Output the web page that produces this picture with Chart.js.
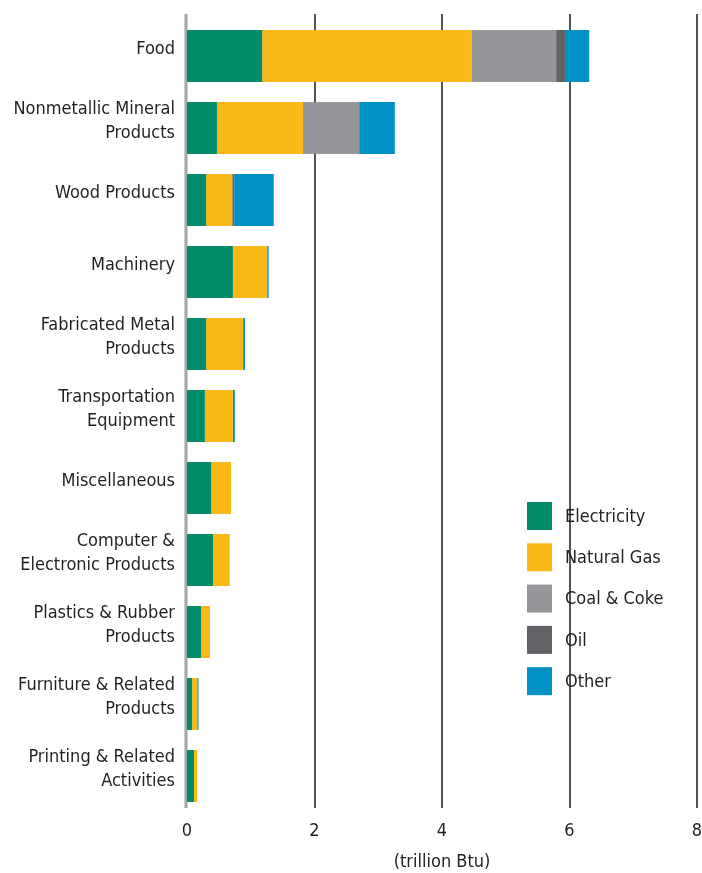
<!DOCTYPE html>
<html>
<head>
<meta charset="utf-8">
<script src="https://cdn.jsdelivr.net/npm/chart.js@4"></script>
<style>
  html, body { margin: 0; padding: 0; background: #fff; }
  #wrap { width: 702px; height: 873px; }
</style>
</head>
<body>
<div id="wrap"><canvas id="chartEnergy" width="702" height="873"></canvas></div>
<script>
// Categories (industries)
const industries = [
    'Food',
    ['Nonmetallic Mineral', 'Products'],
    'Wood Products',
    'Machinery',
    ['Fabricated Metal', 'Products'],
    ['Transportation', 'Equipment'],
    'Miscellaneous',
    ['Computer &', 'Electronic Products'],
    ['Plastics & Rubber', 'Products'],
    ['Furniture & Related', 'Products'],
    ['Printing & Related', 'Activities']
];

// Energy use by source (trillion Btu)
const electricity = [1.18, 0.47, 0.30, 0.72, 0.30, 0.28, 0.38, 0.41, 0.22, 0.08, 0.11];
const naturalGas  = [3.29, 1.35, 0.41, 0.53, 0.58, 0.44, 0.31, 0.26, 0.14, 0.08, 0.05];
const coalCoke    = [1.32, 0.88, 0, 0, 0, 0, 0, 0, 0, 0, 0];
const oil         = [0.14, 0, 0.03, 0.01, 0, 0, 0, 0, 0, 0, 0];
const other       = [0.38, 0.56, 0.62, 0.02, 0.03, 0.03, 0, 0, 0, 0.02, 0];

const xTicks = [0, 2, 4, 6, 8];

const FONT = "'Liberation Sans Narrow', 'DejaVu Sans Condensed', sans-serif";
const TEXT = '#231f20';

// Gridlines + gray zero axis, drawn a bit past the category band
const gridLines = {
    id: 'gridLines',
    beforeDatasetsDraw(chart, args, opts) {
        const ctx = chart.ctx;
        const xs = chart.scales.x;
        const top = chart.chartArea.top - opts.extendTop;
        const bottom = chart.chartArea.bottom - opts.trimBottom;
        ctx.save();
        xs.ticks.forEach(t => {
            const px = Math.round(xs.getPixelForValue(t.value));
            ctx.beginPath();
            if (t.value === 0) {
                ctx.strokeStyle = '#a4a5a8';
                ctx.lineWidth = 3;
                ctx.moveTo(px - 1, top);
                ctx.lineTo(px - 1, bottom);
            } else {
                ctx.strokeStyle = '#1a1a1a';
                ctx.lineWidth = 1.5;
                ctx.moveTo(px, top);
                ctx.lineTo(px, bottom);
            }
            ctx.stroke();
        });
        ctx.restore();
    }
};

// Legend drawn inside the plot area (bottom right)
const insideLegend = {
    id: 'insideLegend',
    afterDraw(chart, args, opts) {
        const ctx = chart.ctx;
        ctx.save();
        ctx.font = '18px ' + FONT;
        ctx.textBaseline = 'middle';
        chart.data.datasets.forEach((ds, i) => {
            const y = opts.y + i * opts.step;
            ctx.fillStyle = ds.backgroundColor;
            ctx.fillRect(opts.x, y, opts.box, opts.boxH);
            ctx.fillStyle = TEXT;
            ctx.fillText(ds.label, opts.x + opts.box + 13, y + opts.boxH / 2 + 1);
        });
        ctx.restore();
    }
};

const ctx = document.getElementById('chartEnergy').getContext('2d');

new Chart(ctx, {
    type: 'bar',
    data: {
        labels: industries,
        datasets: [
            { label: 'Electricity', data: electricity, backgroundColor: '#008b69' },
            { label: 'Natural Gas', data: naturalGas, backgroundColor: '#fbb916' },
            { label: 'Coal & Coke', data: coalCoke, backgroundColor: '#95969a' },
            { label: 'Oil', data: oil, backgroundColor: '#626366' },
            { label: 'Other', data: other, backgroundColor: '#0091c5' }
        ]
    },
    options: {
        indexAxis: 'y',
        responsive: false,
        animation: false,
        layout: { padding: { top: 20, right: 5, bottom: 0, left: 0 } },
        datasets: {
            bar: {
                borderWidth: 0,
                barPercentage: 0.722,
                categoryPercentage: 1.0
            }
        },
        scales: {
            x: {
                stacked: true,
                min: 0,
                max: 8,
                afterBuildTicks: (scale) => {
                    scale.ticks = xTicks.map(v => ({ value: v }));
                },
                afterFit: (scale) => {
                    scale.height = 61;
                    scale.paddingLeft = 0;
                    scale.paddingRight = 0;
                },
                grid: { display: false, drawTicks: false, tickLength: 0 },
                border: { display: false },
                ticks: {
                    padding: 9,
                    color: TEXT,
                    font: { family: FONT, size: 18 }
                },
                title: {
                    display: true,
                    text: '(trillion Btu)',
                    color: TEXT,
                    padding: { top: 5, bottom: 0 },
                    font: { family: FONT, size: 18 }
                }
            },
            y: {
                stacked: true,
                afterFit: (scale) => {
                    scale.width = 187;
                    scale.paddingTop = 0;
                    scale.paddingBottom = 0;
                },
                grid: { display: false, drawTicks: false, tickLength: 0 },
                border: { display: false },
                ticks: {
                    padding: 12,
                    labelOffset: -7,
                    color: TEXT,
                    font: { family: FONT, size: 18, lineHeight: 1.33 }
                }
            }
        },
        plugins: {
            legend: { display: false },
            tooltip: { enabled: false },
            gridLines: { extendTop: 6, trimBottom: 4 },
            insideLegend: { x: 527, y: 502, box: 25, boxH: 28, step: 41.3 }
        }
    },
    plugins: [gridLines, insideLegend]
});
</script>
</body>
</html>
